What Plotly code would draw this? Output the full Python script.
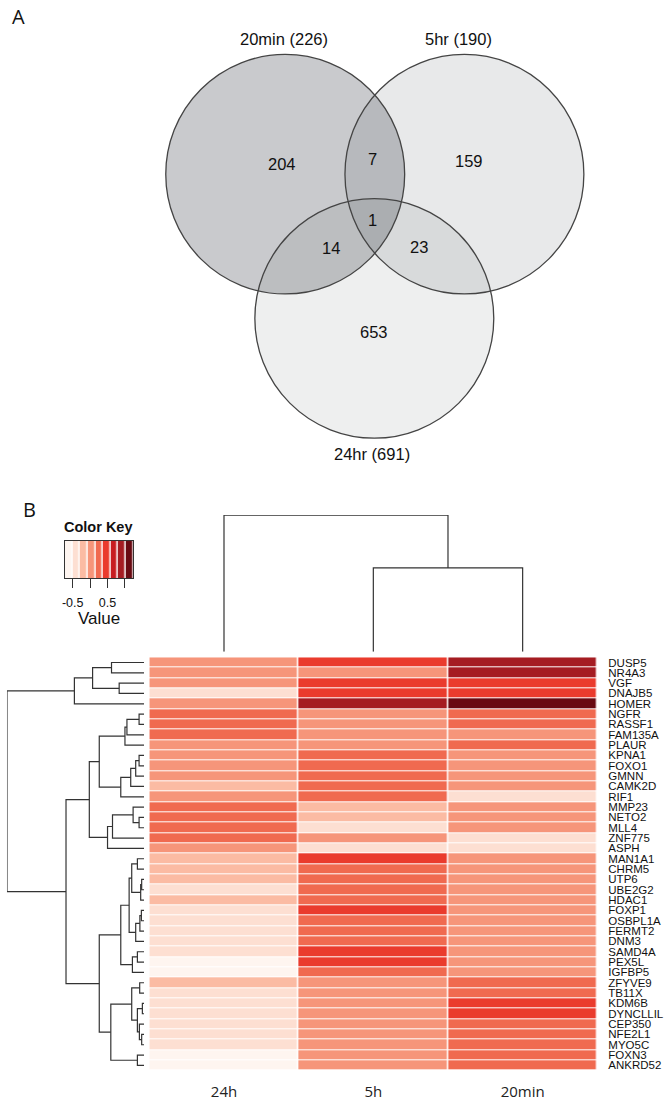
import plotly.graph_objects as go

# ---------------- DATA ----------------
# Panel A: Venn diagram of differentially expressed genes
set_names = ["20min", "5hr", "24hr"]
set_totals = [226, 190, 691]
only_counts = [204, 159, 653]          # 20min only, 5hr only, 24hr only
pair_labels = ["20min&5hr", "20min&24hr", "5hr&24hr"]
pair_counts = [7, 14, 23]
all_count = 1

# Panel B: heatmap
genes = ["DUSP5", "NR4A3", "VGF", "DNAJB5", "HOMER", "NGFR", "RASSF1", "FAM135A",
         "PLAUR", "KPNA1", "FOXO1", "GMNN", "CAMK2D", "RIF1", "MMP23", "NETO2",
         "MLL4", "ZNF775", "ASPH", "MAN1A1", "CHRM5", "UTP6", "UBE2G2", "HDAC1",
         "FOXP1", "OSBPL1A", "FERMT2", "DNM3", "SAMD4A", "PEX5L", "IGFBP5",
         "ZFYVE9", "TB11X", "KDM6B", "DYNCLLIL", "CEP350", "NFE2L1", "MYO5C",
         "FOXN3", "ANKRD52"]
conditions = ["24h", "5h", "20min"]

val_24h = [0.04, 0.04, 0.04, -0.40, 0.04, 0.26, 0.26, 0.26, 0.04, 0.04,
           0.04, 0.04, -0.18, 0.04, 0.26, 0.26, 0.26, 0.26, 0.04, -0.18,
           -0.18, -0.18, -0.40, -0.18, -0.40, -0.40, -0.40, -0.40, -0.40, -0.62,
           -0.62, -0.18, -0.40, -0.40, -0.40, -0.40, -0.40, -0.40, -0.62, -0.62]
val_5h = [0.48, 0.04, 0.48, 0.48, 0.91, 0.04, 0.04, 0.04, 0.04, 0.26,
          0.26, 0.26, 0.26, 0.26, -0.18, -0.18, -0.40, 0.04, -0.40, 0.48,
          0.26, 0.26, 0.26, 0.26, 0.48, 0.26, 0.26, 0.26, 0.48, 0.48,
          0.26, 0.04, 0.04, 0.04, 0.04, 0.04, 0.04, 0.04, 0.04, 0.04]
val_20min = [0.91, 0.91, 0.48, 0.48, 1.13, 0.26, 0.26, 0.04, 0.26, 0.04,
             0.04, 0.04, 0.04, -0.40, 0.04, 0.04, 0.04, -0.40, -0.40, 0.04,
             0.04, 0.04, 0.04, 0.04, 0.04, 0.04, 0.04, 0.04, 0.04, 0.04,
             0.04, 0.26, 0.26, 0.48, 0.48, 0.26, 0.26, 0.26, 0.26, 0.26]

# colour key
key_min, key_max = -0.729, 1.243
key_ticks = [-0.5, 0.0, 0.5, 1.0]
key_ticktext = ["-0.5", "", "0.5", ""]
key_colors = ["#fef5f0", "#fddfd2", "#fbbba3", "#f6957a", "#f06a50",
              "#ea3b2d", "#c81c20", "#a51c22", "#690a12"]

# dendrograms: (height, left, right), leaves are names
row_tree = (137.7,
            (70.0, (51.7, (32.7, "DUSP5", "NR4A3"), (25.0, "VGF", "DNAJB5")), "HOMER"),
            (78.4,
             (55.0,
              (45.0,
               (19.2, (17.2, (5.0, "NGFR", "RASSF1"), "FAM135A"), "PLAUR"),
               (23.4, (13.4, (8.4, (5.0, "KPNA1", "FOXO1"), "GMNN"), "CAMK2D"), "RIF1")),
              (36.7, (31.7, (11.0, "MMP23", (5.0, "NETO2", "MLL4")), "ZNF775"), "ASPH")),
             (45.0,
              (23.4,
               (15.0,
                (12.4, (6.7, "MAN1A1", "CHRM5"), (3.4, (2.4, "UTP6", "UBE2G2"), "HDAC1")),
                (8.4, (4.2, (2.7, "FOXP1", "OSBPL1A"), "FERMT2"), "DNM3")),
               (11.7, (6.7, "SAMD4A", "PEX5L"), "IGFBP5")),
              (33.4,
               (12.4, (4.4, "ZFYVE9", "TB11X"),
                (6.7, (1.7, "KDM6B", "DYNCLLIL"), (4.7, "CEP350", (2.4, "NFE2L1", "MYO5C")))),
               (6.7, "FOXN3", "ANKRD52")))))
col_tree = (137.0, "24h", (84.0, "5h", "20min"))

# ---------------- LAYOUT HELPERS ----------------
W, H = 666, 1101
def px(x):
    return x / W
def py(y):
    return 1 - y / H

HM_L, HM_R, HM_T, HM_B = 147, 597, 657.5, 1071.5
LINE = "#333333"
ARIAL = "Liberation Sans, Arial, sans-serif"
MYRIAD = "Open Sans, sans-serif"

def tree_segments(node, leaf_pos, xs, ys, horizontal):
    if isinstance(node, str):
        return leaf_pos[node], 0.0
    h, a, b = node
    pa, ha = tree_segments(a, leaf_pos, xs, ys, horizontal)
    pb, hb = tree_segments(b, leaf_pos, xs, ys, horizontal)
    hs = [ha, h, h, hb]
    ps = [pa, pa, pb, pb]
    if horizontal:
        xs += hs + [None]; ys += ps + [None]
    else:
        xs += ps + [None]; ys += hs + [None]
    return (pa + pb) / 2, h

fig = go.Figure()

# heatmap
z = [[a, b, c] for a, b, c in zip(val_24h, val_5h, val_20min)]
n = len(key_colors)
cs = []
for k, c in enumerate(key_colors):
    cs.append([k / n, c]); cs.append([(k + 1) / n, c])
fig.add_trace(go.Heatmap(z=z, x=conditions, y=genes, colorscale=cs, zmin=key_min, zmax=key_max,
                         showscale=False, xgap=1.5, ygap=1, xaxis="x", yaxis="y", hoverinfo="skip"))

# colour key
bw = (key_max - key_min) / n
key_x = [key_min + (k + 0.5) * bw for k in range(n)]
key_z = [[key_min + (k + 0.5) * bw for k in range(n)]]
fig.add_trace(go.Heatmap(z=key_z, x=key_x, y=[0], colorscale=cs, zmin=key_min, zmax=key_max,
                         showscale=False, xgap=1.5, xaxis="x2", yaxis="y2", hoverinfo="skip"))

# row dendrogram
leaf_row = {g: i for i, g in enumerate(genes)}
rx, ry = [], []
tree_segments(row_tree, leaf_row, rx, ry, True)
fig.add_trace(go.Scatter(x=rx, y=ry, mode="lines", line=dict(color=LINE, width=1.2),
                         xaxis="x3", yaxis="y3", hoverinfo="skip"))

# column dendrogram
leaf_col = {c: i for i, c in enumerate(conditions)}
cx, cy = [], []
tree_segments(col_tree, leaf_col, cx, cy, False)
fig.add_trace(go.Scatter(x=cx, y=cy, mode="lines", line=dict(color=LINE, width=1.2),
                         xaxis="x4", yaxis="y4", hoverinfo="skip"))

# ---------------- VENN ----------------
circles = [(283.5, 173.5, 120), (463.5, 173.5, 120), (373, 318, 120)]
fills = ["rgba(30,35,45,0.24)", "rgba(30,35,45,0.10)", "rgba(30,35,45,0.075)"]
shapes = []
for (ccx, ccy, r), f in zip(circles, fills):
    shapes.append(dict(type="circle", xref="paper", yref="paper",
                       x0=px(ccx - r), x1=px(ccx + r), y0=py(ccy + r), y1=py(ccy - r),
                       fillcolor=f, line=dict(width=0), layer="above"))
for (ccx, ccy, r) in circles:
    shapes.append(dict(type="circle", xref="paper", yref="paper",
                       x0=px(ccx - r), x1=px(ccx + r), y0=py(ccy + r), y1=py(ccy - r),
                       fillcolor="rgba(0,0,0,0)", line=dict(color="#444444", width=1.3), layer="above"))

annotations = []
def ann(x, y, text, size, family=ARIAL, bold=False, color="#111111"):
    t = "<b>%s</b>" % text if bold else text
    annotations.append(dict(x=px(x), y=py(y), xref="paper", yref="paper", text=t,
                            showarrow=False, xanchor="center", yanchor="middle",
                            font=dict(size=size, family=family, color=color)))

VFS = 16.5
set_label_pos = [(282, 38), (458, 38), (371, 454)]
for name, tot, (lx, ly) in zip(set_names, set_totals, set_label_pos):
    ann(lx, ly, "%s (%d)" % (name, tot), VFS)
only_pos = [(280, 163), (468, 160), (373, 332)]
for cnt, (lx, ly) in zip(only_counts, only_pos):
    ann(lx, ly, str(cnt), VFS)
pair_pos = [(371, 158), (329, 247), (418, 246)]
for cnt, (lx, ly) in zip(pair_counts, pair_pos):
    ann(lx, ly, str(cnt), VFS)
ann(371, 219, str(all_count), VFS)

# panel letters and key texts
ann(16, 16, "A", 20, MYRIAD)
ann(27, 509, "B", 20, MYRIAD)
ann(96, 527, "Color Key", 14.5, ARIAL, bold=True)
ann(96, 619, "Value", 17, ARIAL)

hm_dom_x = [px(HM_L), px(HM_R)]
hm_dom_y = [py(HM_B), py(HM_T)]

fig.update_layout(
    width=W, height=H, margin=dict(l=0, r=0, t=0, b=0),
    paper_bgcolor="white", plot_bgcolor="white", showlegend=False,
    shapes=shapes, annotations=annotations,
    xaxis=dict(domain=hm_dom_x, anchor="y", showgrid=False, zeroline=False, showline=False,
               ticks="", ticklabelstandoff=10, tickfont=dict(family=MYRIAD, size=15, color="#222")),
    yaxis=dict(domain=hm_dom_y, anchor="x", side="right", autorange="reversed", showgrid=False,
               zeroline=False, showline=False, ticks="", ticklabelstandoff=10,
               tickmode="array", tickvals=genes, ticktext=genes,
               tickfont=dict(family=ARIAL, size=11.5, color="#111")),
    xaxis2=dict(domain=[px(62), px(131)], anchor="y2", range=[key_min, key_max], showgrid=False,
                zeroline=False, showline=True, mirror=True, linecolor=LINE, linewidth=1,
                ticks="outside", ticklen=9, tickcolor=LINE, tickwidth=1,
                tickvals=key_ticks, ticktext=key_ticktext, ticklabelstandoff=4,
                tickfont=dict(family=ARIAL, size=12.5, color="#111")),
    yaxis2=dict(domain=[py(578), py(541)], anchor="x2", range=[-0.5, 0.5], showgrid=False,
                zeroline=False, showline=True, mirror=True, linecolor=LINE, linewidth=1,
                showticklabels=False, ticks=""),
    xaxis3=dict(domain=[px(4), px(141.7)], anchor="y3", range=[137.7, 0], visible=False),
    yaxis3=dict(domain=hm_dom_y, anchor="x3", range=[len(genes) - 0.5, -0.5], visible=False),
    xaxis4=dict(domain=hm_dom_x, anchor="y4", range=[-0.5, 2.5], visible=False),
    yaxis4=dict(domain=[py(652), py(515)], anchor="x4", range=[0, 137.0], visible=False),
)

fig.write_html("out.html", config={"displayModeBar": False},
               post_script="document.body.style.margin='0px';document.body.style.overflow='hidden';")
